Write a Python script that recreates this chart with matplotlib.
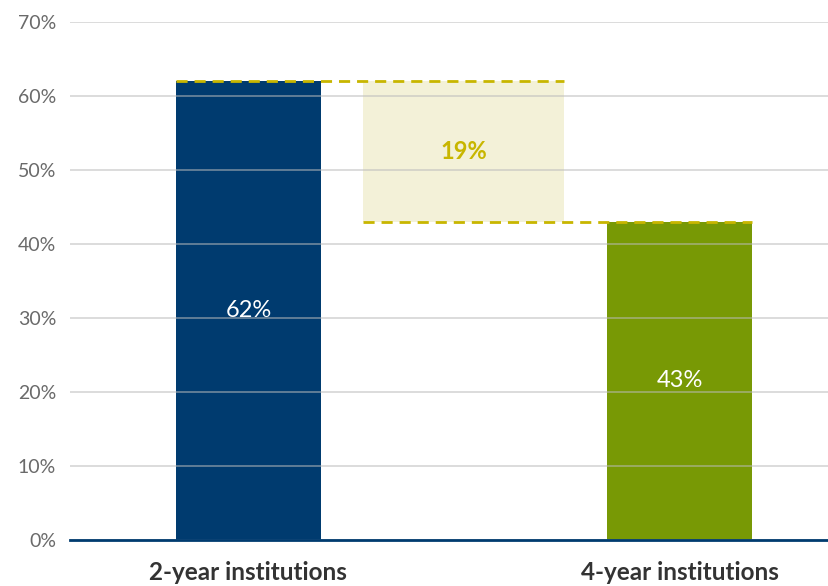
import matplotlib
matplotlib.use("Agg")
import matplotlib.pyplot as plt

categories = ["2-year institutions", "4-year institutions"]
values = [62, 43]
gap_label = "19%"
yticks = [0, 10, 20, 30, 40, 50, 60, 70]

navy = "#003b6f"
green = "#789905"
gold = "#c8b600"
fill = "#f3f1d8"

fig = plt.figure(figsize=(8.29, 5.86), dpi=100)
ax = fig.add_axes([70/829, 46/586, 759/829, 518/586])

xpos = [0, 2]
bw = 0.673
ax.bar(xpos[0], values[0], width=bw, color=navy, zorder=2)
ax.bar(xpos[1], values[1], width=bw, color=green, zorder=2)

# gap rectangle
gw = 0.933
ax.bar(1, values[0] - values[1], bottom=values[1], width=gw, color=fill, zorder=1)

# dashed lines
ax.plot([xpos[0] - bw/2, 1 + gw/2], [values[0], values[0]], ls=(0, (4, 2.5)), color=gold, lw=2, zorder=4)
ax.plot([1 - gw/2, xpos[1] + bw/2], [values[1], values[1]], ls=(0, (4, 2.5)), color=gold, lw=2, zorder=4)

ax.text(1, (values[0] + values[1]) / 2, gap_label, ha="center", va="center",
        color=gold, fontsize=17, fontweight="bold", family="Lato")
for x, v in zip(xpos, values):
    ax.text(x, v / 2, f"{v}%", ha="center", va="center", color="white",
            fontsize=17, fontweight="normal", family="Lato")

ax.set_xlim(-0.828, 2.694)
ax.set_ylim(0, 70)
ax.set_yticks(yticks)
ax.set_yticklabels([f"{t}%" for t in yticks], fontsize=14, color="#6a6a6a", family="Lato", fontweight="normal")
ax.set_xticks(xpos)
ax.set_xticklabels(categories, fontsize=17.5, fontweight="bold", color="#333333", family="Lato")
ax.tick_params(axis="y", length=0, pad=10)
ax.tick_params(axis="x", length=0, pad=15)

ax.grid(axis="y", color="#bbbbbb", lw=1.2, alpha=0.6, zorder=3)
ax.set_axisbelow(False)
for s in ["top", "right", "left"]:
    ax.spines[s].set_visible(False)
ax.spines["bottom"].set_color(navy)
ax.spines["bottom"].set_linewidth(2)
ax.spines["bottom"].set_zorder(5)

fig.savefig("out.png", dpi=100)
